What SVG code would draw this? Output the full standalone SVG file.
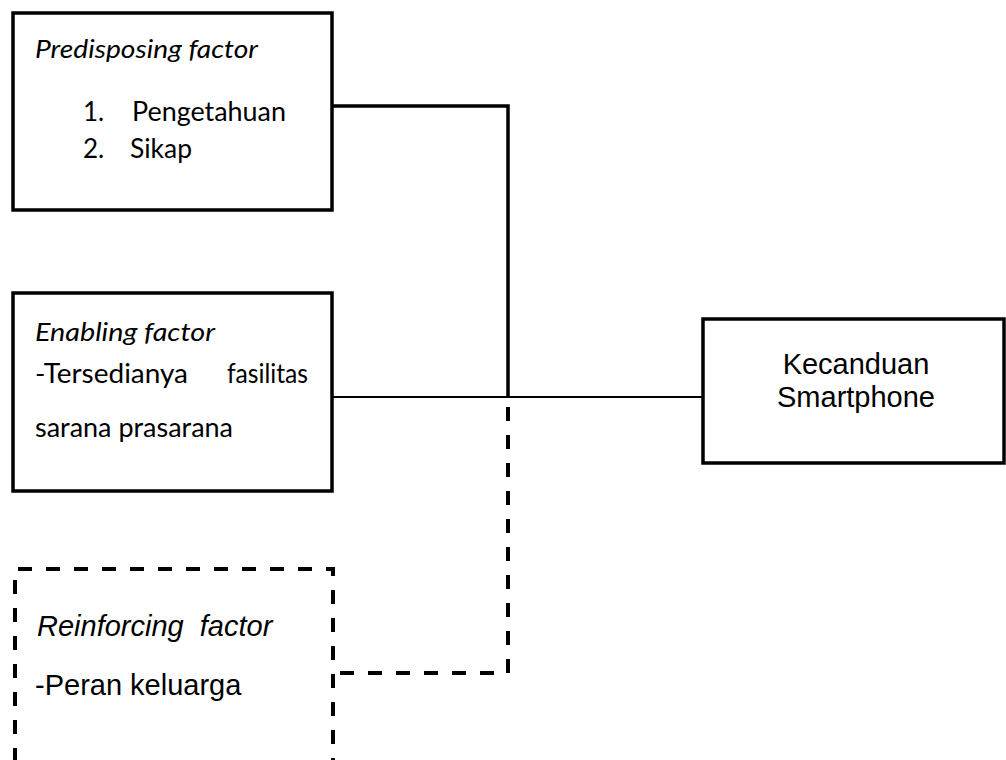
<svg xmlns="http://www.w3.org/2000/svg" width="1006" height="760" viewBox="0 0 1006 760">
<style>
.box{fill:#fff;stroke:#000;stroke-width:3.5}
.dbox{fill:none;stroke:#000;stroke-width:4;stroke-dasharray:14 14}
.cal{font-family:Lato,"Open Sans","Liberation Sans",sans-serif;font-size:26px;fill:#000}
.ari{font-family:"Liberation Sans",Arial,sans-serif;font-size:29px;fill:#000}
.it{font-style:italic}
.solid{fill:none;stroke:#000;stroke-width:3.5}
.thin{fill:none;stroke:#000;stroke-width:2}
.dash{fill:none;stroke:#000;stroke-width:4;stroke-dasharray:14 14}
</style>
<rect x="0" y="0" width="1006" height="760" fill="#fff"/>
<g id="connectors">
<polyline class="solid" points="332,106 508,106 508,397"/>
<line class="thin" x1="332" y1="397" x2="703" y2="397"/>
<polyline class="dash" points="508,407 508,673 333,673"/>
</g>
<g id="predisposing">
<rect class="box" x="13" y="13" width="319" height="197"/>
<text class="cal it" x="35" y="58" textLength="223" lengthAdjust="spacingAndGlyphs">Predisposing factor</text>
<text class="cal" x="83" y="121">1.</text>
<text class="cal" x="132" y="121" textLength="154" lengthAdjust="spacingAndGlyphs">Pengetahuan</text>
<text class="cal" x="83" y="158">2.</text>
<text class="cal" x="130" y="158" textLength="62" lengthAdjust="spacingAndGlyphs">Sikap</text>
</g>
<g id="enabling">
<rect class="box" x="13" y="293" width="319" height="198"/>
<text class="cal it" x="35" y="341" textLength="180" lengthAdjust="spacingAndGlyphs">Enabling factor</text>
<text class="cal" x="35" y="383" textLength="153" lengthAdjust="spacingAndGlyphs">-Tersedianya</text>
<text class="cal" x="227" y="383" textLength="81" lengthAdjust="spacingAndGlyphs">fasilitas</text>
<text class="cal" x="35" y="437" textLength="198" lengthAdjust="spacingAndGlyphs">sarana prasarana</text>
</g>
<g id="reinforcing">
<path class="dbox" d="M15,790 L15,569 L333,569 L333,790"/>
<text class="ari it" x="37" y="636" xml:space="preserve">Reinforcing  factor</text>
<text class="ari" x="35" y="695">-Peran keluarga</text>
</g>
<g id="kecanduan">
<rect class="box" x="703" y="319" width="301" height="144"/>
<text class="ari" x="856" y="374" text-anchor="middle">Kecanduan</text>
<text class="ari" x="856" y="407" text-anchor="middle">Smartphone</text>
</g>
</svg>
